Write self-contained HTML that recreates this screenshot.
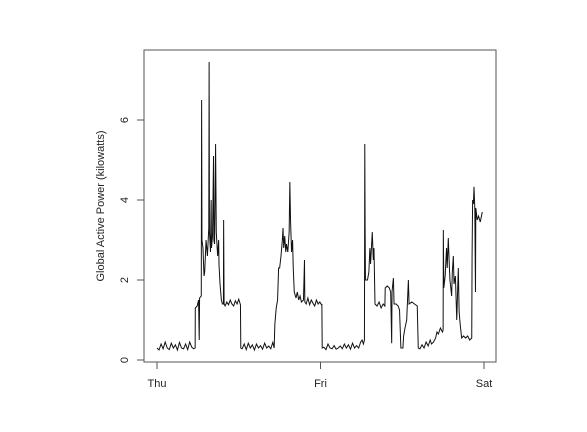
<!DOCTYPE html>
<html><head><meta charset="utf-8"><style>
html,body{margin:0;padding:0;background:#fff;}
svg{display:block;font-family:"Liberation Sans",Arial,sans-serif;}
</style></head><body>
<svg id="chart" width="587" height="432" viewBox="0 0 587 432">
<rect x="144" y="50" width="352" height="312" fill="none" stroke="#555" stroke-width="1"/>
<g id="axes"></g>
<polyline id="series" fill="none" stroke="#111" stroke-width="1"/>
<text x="0" y="0" transform="translate(104,206) rotate(-90)" text-anchor="middle" font-size="11" fill="#222">Global Active Power (kilowatts)</text>
</svg>
<script>
const xTickLabels = ["Thu","Fri","Sat"];
const xTickHours = [0,24,48];
const yTickValues = [0,2,4,6];
const hours = [0,0.3,0.6,0.9,1.2,1.5,1.8,2.1,2.4,2.7,3.0,3.3,3.6,3.9,4.2,4.5,4.8,5.1,5.4,
5.6,5.62,5.9,6.1,6.2,6.25,6.5,6.55,6.6,6.75,6.9,7.0,7.2,7.4,7.6,7.65,7.7,7.85,7.95,8.0,8.15,8.3,8.35,8.45,8.6,8.7,8.9,9.05,9.1,9.25,9.45,9.6,9.75,9.78,9.85,
10.0,10.25,10.5,10.75,11.0,11.25,11.5,11.75,12.0,12.25,
12.3,12.5,12.8,13.1,13.4,13.7,14.0,14.3,14.6,14.9,15.2,15.5,15.8,16.1,16.4,16.7,17.0,
17.2,17.3,17.5,17.7,17.85,18.0,18.2,18.4,18.5,18.6,18.75,18.9,19.0,19.2,19.4,19.5,19.6,19.75,19.9,20.0,20.15,20.4,20.6,20.8,21.0,21.2,21.5,21.65,21.7,
21.9,22.15,22.4,22.65,22.9,23.15,23.4,23.65,23.9,24.15,24.2,24.25,
24.5,24.8,25.1,25.4,25.7,26.0,26.3,26.6,26.9,27.2,27.5,27.8,28.1,28.4,28.7,29.0,29.3,29.6,29.9,30.1,30.3,30.45,
30.5,30.55,30.6,30.9,31.1,31.25,31.35,31.6,31.75,31.85,32.0,32.3,32.6,32.9,33.2,33.45,33.5,33.8,34.1,34.3,34.45,34.5,34.7,34.8,35.1,35.4,35.6,35.8,36.1,36.2,36.4,36.65,36.9,37.0,37.4,37.8,38.2,38.35,
38.6,38.9,39.2,39.5,39.8,40.1,40.3,40.6,40.9,41.1,41.3,41.6,41.9,42.0,42.03,42.1,42.3,42.5,42.6,42.76,42.9,43.0,43.25,43.35,43.5,43.6,43.8,44.0,44.23,44.35,44.5,44.72,45.0,45.3,45.6,45.9,46.2,46.25,46.33,46.45,46.53,46.65,46.75,46.8,47.0,47.2,47.45,47.75];
const power = [0.3,0.25,0.4,0.28,0.45,0.3,0.26,0.42,0.3,0.38,0.25,0.44,0.3,0.28,0.4,0.26,0.45,0.32,0.28,
0.3,1.3,1.35,1.5,0.5,1.55,1.6,6.5,3.0,2.8,2.1,2.2,3.0,2.6,3.3,7.45,3.2,2.7,4.0,2.8,3.1,5.1,3.0,2.9,5.4,3.2,2.6,3.0,2.4,1.9,1.5,1.4,1.4,3.5,1.4,
1.35,1.45,1.38,1.5,1.4,1.35,1.48,1.4,1.52,1.38,
0.3,0.28,0.4,0.26,0.42,0.3,0.38,0.25,0.4,0.3,0.36,0.27,0.42,0.3,0.35,0.28,0.44,
0.3,0.9,1.3,1.5,2.3,2.3,2.6,3.0,3.3,2.8,3.1,2.7,2.9,2.7,3.2,4.45,3.5,2.7,3.0,2.3,1.7,1.55,1.7,1.5,1.6,1.45,1.5,2.5,1.45,
1.4,1.55,1.38,1.5,1.42,1.35,1.5,1.4,1.45,1.38,1.4,0.3,
0.32,0.26,0.4,0.3,0.28,0.36,0.27,0.3,0.35,0.28,0.4,0.3,0.38,0.27,0.42,0.3,0.36,0.3,0.45,0.5,0.4,0.5,
5.4,3.3,2.0,2.0,2.2,2.8,2.4,3.2,2.5,2.8,1.4,1.35,1.45,1.3,1.4,1.35,1.8,1.85,1.8,1.7,0.42,1.7,2.05,1.4,1.4,1.35,1.25,0.3,0.3,0.6,0.8,1.0,2.0,1.4,1.45,1.4,1.35,0.3,
0.28,0.38,0.3,0.45,0.35,0.5,0.4,0.45,0.55,0.7,0.65,0.8,0.7,0.75,3.25,1.8,2.1,2.8,2.3,3.05,2.4,2.0,1.6,2.2,2.6,1.9,2.1,1.0,2.3,1.2,0.9,0.55,0.6,0.55,0.6,0.5,0.55,2.6,4.0,3.9,4.33,3.8,1.7,3.8,3.5,3.6,3.45,3.7];

const NS = "http://www.w3.org/2000/svg";
function xScale(h){ return 157 + h * (327 / 48); }
function yScale(v){ return 360 - v * 40; }

const axes = document.getElementById('axes');
xTickHours.forEach(function(h, i){
  const t = document.createElementNS(NS, 'line');
  t.setAttribute('x1', xScale(h)); t.setAttribute('x2', xScale(h));
  t.setAttribute('y1', 362); t.setAttribute('y2', 369);
  t.setAttribute('stroke', '#555');
  
  
  axes.appendChild(t);
  const l = document.createElementNS(NS, 'text');
  l.setAttribute('x', xScale(h)); l.setAttribute('y', 387);
  l.setAttribute('text-anchor', 'middle'); l.setAttribute('font-size', '11'); l.setAttribute('fill', '#222');
  l.textContent = xTickLabels[i];
  
  
  axes.appendChild(l);
});
yTickValues.forEach(function(v){
  const t = document.createElementNS(NS, 'line');
  t.setAttribute('x1', 137); t.setAttribute('x2', 144);
  t.setAttribute('y1', yScale(v)); t.setAttribute('y2', yScale(v));
  t.setAttribute('stroke', '#555');
  
  
  axes.appendChild(t);
  const l = document.createElementNS(NS, 'text');
  l.setAttribute('transform', 'translate(128,' + yScale(v) + ') rotate(-90)');
  l.setAttribute('text-anchor', 'middle'); l.setAttribute('font-size', '11'); l.setAttribute('fill', '#222');
  l.textContent = String(v);
  
  
  axes.appendChild(l);
});
const pts = hours.map(function(h, i){ return xScale(h).toFixed(2) + ',' + yScale(power[i]).toFixed(2); });
document.getElementById('series').setAttribute('points', pts.join(' '));
</script>
</body></html>
